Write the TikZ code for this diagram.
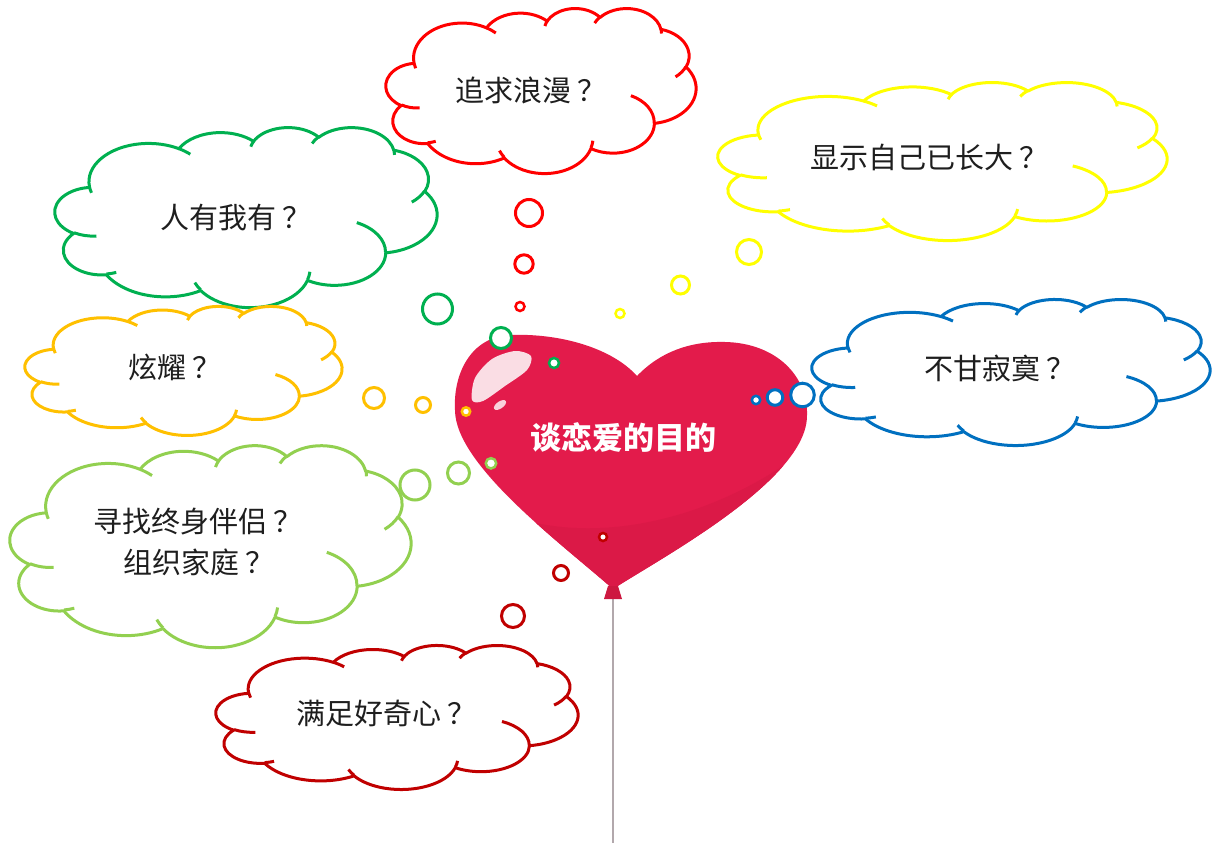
\documentclass[tikz,border=0pt]{standalone}
\usepackage{fontspec}
\newfontfamily\cjk{Noto Sans CJK SC}
\definecolor{cRed}{RGB}{255,0,0}
\definecolor{cGreen}{RGB}{0,176,80}
\definecolor{cOrange}{RGB}{255,192,0}
\definecolor{cYellow}{RGB}{255,255,0}
\definecolor{cBlue}{RGB}{0,112,192}
\definecolor{cLime}{RGB}{146,208,80}
\definecolor{cDark}{RGB}{192,0,0}
\definecolor{heartred}{RGB}{227,27,75}
\definecolor{heartdark}{RGB}{219,25,71}
\definecolor{knotred}{RGB}{205,24,64}
\definecolor{stringgray}{RGB}{178,168,172}
\definecolor{txt}{RGB}{30,30,30}

% PowerPoint "cloud" preset: arcTo with visual angles -> TikZ parametric arcs
\newcommand\ppdef[5]{%
  \pgfmathsetmacro\ppts{atan2((#2)*sin(#4),(#3)*cos(#4))}%
  \pgfmathsetmacro\ppte{atan2((#2)*sin((#4)+(#5)),(#3)*cos((#4)+(#5)))}%
  \pgfmathsetmacro\ppd{mod(\ppte-\ppts+720,360)}%
  \expandafter\xdef\csname ppa#1\endcsname{arc[x radius=#2,y radius=#3,start angle=\ppts,delta angle=\ppd]}%
}
\ppdef{A}{67.53}{91.90}{-190.48748}{123.78053}
\ppdef{B}{53.33}{72.67}{-144.10238}{89.94523}
\ppdef{C}{43.65}{59.45}{-145.80792}{99.72302}
\ppdef{D}{48.57}{65.95}{-130.98607}{117.24173}
\ppdef{E}{53.33}{72.73}{-78.70888}{109.02692}
\ppdef{F}{67.75}{92.20}{-46.26725}{130.26900}
\ppdef{G}{57.85}{78.67}{0.62502}{114.03333}
\ppdef{H}{67.52}{92.15}{22.45160}{115.17255}
\ppdef{I}{77.20}{105.43}{66.24263}{75.71102}
\ppdef{J}{43.60}{59.18}{-274.94208}{146.73557}
\ppdef{K}{43.45}{59.45}{-246.82850}{152.51885}
\ppdef{a}{43.45}{59.45}{86.74200}{26.42950}
\ppdef{b}{43.60}{59.18}{73.61047}{11.44747}
\ppdef{c}{67.52}{92.15}{137.62415}{14.08110}
\ppdef{d}{67.52}{92.15}{6.45327}{15.99835}
\ppdef{e}{57.85}{78.67}{-70.29235}{70.91737}
\ppdef{f}{53.33}{72.73}{30.31803}{27.75150}
\ppdef{g}{48.57}{65.95}{-13.74433}{14.85890}
\ppdef{h}{48.57}{65.95}{-149.18145}{18.19537}
\ppdef{i}{43.65}{59.45}{-163.49427}{17.68635}
\ppdef{j}{67.53}{91.90}{-66.70695}{12.31935}
\ppdef{k}{67.53}{91.90}{157.65435}{11.85817}

\newcommand\qm{\kern6pt？}

\tikzset{
  cloudline/.style={line width=3pt,line join=round},
  bub/.style={line width=3pt,fill=white},
  smallbub/.style={line width=2.5pt,fill=white},
  ctext/.style={font=\cjk\fontsize{29}{40}\selectfont,text=txt,inner sep=0pt,anchor=west},
  htext/.style={font=\cjk\bfseries\fontsize{31}{36}\selectfont,text=white,inner sep=0pt}
}

% color, x, y, w, h
\newcommand\pptcloud[5]{%
  \begin{scope}[shift={(#2,#3)},xscale=#4/432,yscale=#5/432]
    \draw[cloudline,draw=#1,fill=white] (39,143.70) \ppaA\ppaB\ppaC\ppaD\ppaE\ppaF\ppaG\ppaH\ppaI\ppaJ\ppaK -- cycle;
    \draw[cloudline,draw=#1] (46.93,261.77) \ppaa (69.28,348.99) \ppab (164.78,390.90) \ppac
      (288.27,347.51) \ppad (341.29,229.54) \ppae (417.98,153.54) \ppaf (383.24,54.26) \ppag
      (290.78,39.52) \ppah (221.41,47.20) \ppai (140.00,51.92) \ppaj (41.27,157.89) \ppak;
  \end{scope}}

\begin{document}
\begin{tikzpicture}[x=1pt,y=-1pt]
\useasboundingbox (0,0) rectangle (1216,843);
\fill[white] (0,0) rectangle (1216,843);

% ---- heart balloon ----
\coordinate (knotbot) at (613,598);
\coordinate (strend) at (613,843);
\draw[stringgray,line width=2pt] (knotbot) -- (strend);
\path[fill=heartred] (637,376) .. controls (612,348) and (560,333) .. (510,335)
  .. controls (470,337) and (453,375) .. (455,410)
  .. controls (455,465) and (562,544) .. (613,589)
  .. controls (659,559) and (808,480) .. (807,415)
  .. controls (808,375) and (775,343) .. (725,342)
  .. controls (690,341) and (660,352) .. (637,376) -- cycle;
\begin{scope}
  \clip (637,376) .. controls (612,348) and (560,333) .. (510,335)
  .. controls (470,337) and (453,375) .. (455,410)
  .. controls (455,465) and (562,544) .. (613,589)
  .. controls (659,559) and (808,480) .. (807,415)
  .. controls (808,375) and (775,343) .. (725,342)
  .. controls (690,341) and (660,352) .. (637,376) -- cycle;
  \fill[heartdark] (440,470) .. controls (520,560) and (700,545) .. (830,430) -- (830,620) -- (440,620) -- cycle;
\end{scope}
\fill[knotred] (608,586) -- (618,586) -- (622,599) -- (604,599) -- cycle;
\fill[white,opacity=0.85] plot[smooth cycle] coordinates {(472,400) (475,378) (492,359) (515,351) (531,356) (527,370) (505,386) (483,401)};
\fill[white,opacity=0.8,rotate around={35:(500,405)}] (500,405) ellipse [x radius=7,y radius=3.5];
\node[htext] (heart) at (623,437) {谈恋爱的目的};

% ---- thought bubbles ----
\draw[bub,draw=cRed] (529,213) circle (13.5);
\draw[bub,draw=cRed] (524,264) circle (9.2);
\draw[smallbub,draw=cRed] (520,306.5) circle (4.5);

\draw[bub,draw=cGreen] (437.5,309) circle (15);
\draw[bub,draw=cGreen] (501,338) circle (10.5);
\draw[smallbub,draw=cGreen] (554,363) circle (5);

\draw[bub,draw=cYellow] (749,252) circle (12.5);
\draw[bub,draw=cYellow] (680.5,285) circle (9);
\draw[smallbub,draw=cYellow] (620,313.5) circle (4.5);

\draw[bub,draw=cOrange] (374,398) circle (10.5);
\draw[bub,draw=cOrange] (423,405) circle (7.5);
\draw[smallbub,draw=cOrange] (466,411.5) circle (4.2);

\draw[bub,draw=cBlue] (802.5,395) circle (11.8);
\draw[bub,draw=cBlue] (775,397.5) circle (7.8);
\draw[smallbub,draw=cBlue] (756,400) circle (4.2);

\draw[bub,draw=cLime] (415,485) circle (15);
\draw[bub,draw=cLime] (458.5,473) circle (11);
\draw[smallbub,draw=cLime] (491,463.3) circle (5.2);

\draw[bub,draw=cDark] (513,616) circle (11.5);
\draw[bub,draw=cDark] (561,573) circle (7.5);
\draw[smallbub,draw=cDark] (603,537) circle (4);

% ---- clouds ----
\pptcloud{cRed}{386}{8}{310}{165}
\node[ctext] (t1) at (455.5,90) {追求浪漫\qm};

\pptcloud{cGreen}{55}{127}{382}{180}
\node[ctext] (t2) at (160,218) {人有我有\qm};

\pptcloud{cOrange}{25}{306}{317}{129}
\node[ctext] (t3) at (128.5,367) {炫耀\qm};

\pptcloud{cYellow}{718}{82}{449}{158}
\node[ctext] (t4) at (810,157) {显示自己已长大\qm};

\pptcloud{cBlue}{812}{299}{398}{146}
\node[ctext] (t5) at (924.5,368) {不甘寂寞\qm};

\pptcloud{cLime}{10}{445}{401}{202}
\node[ctext] (t6a) at (93.5,522) {寻找终身伴侣\qm};
\node[ctext] (t6b) at (123.5,562) {组织家庭\qm};

\pptcloud{cDark}{216}{645}{362}{144}
\node[ctext] (t7) at (296.5,713) {满足好奇心\qm};
\end{tikzpicture}
\end{document}
